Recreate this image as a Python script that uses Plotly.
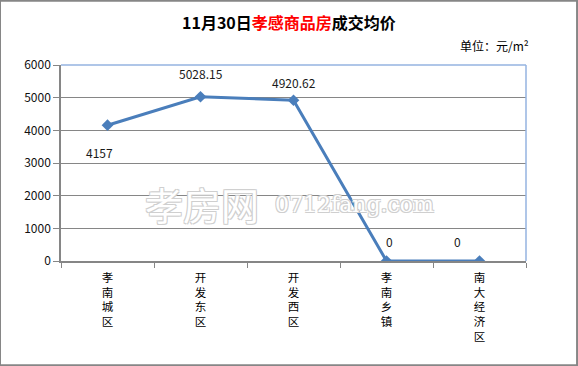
import plotly.graph_objects as go

categories = ["孝南城区", "开发东区", "开发西区", "孝南乡镇", "南大经济区"]
values = [4157, 5028.15, 4920.62, 0, 0]
labels = ["4157", "5028.15", "4920.62", "0", "0"]
yticks = [0, 1000, 2000, 3000, 4000, 5000, 6000]

tick_text = ["<br>".join(list(c)) for c in categories]
FONT = "Noto Sans CJK SC, Noto Sans, sans-serif"

fig = go.Figure()
fig.add_trace(go.Scatter(
    x=categories, y=values, mode="lines+markers",
    line=dict(color="#4a7ebb", width=3),
    marker=dict(symbol="diamond", size=9, color="#4a7ebb"),
    hoverinfo="skip", showlegend=False,
))

# data labels
offsets = [(-8, 27), (0, -23), (0, -18), (3, -20), (-22, -20)]
for i, (c, v, t) in enumerate(zip(categories, values, labels)):
    dx, dy = offsets[i]
    fig.add_annotation(x=c, y=v, text=t, showarrow=False, xshift=dx, yshift=-dy,
                       font=dict(size=12, color="#1a1a1a", family=FONT))

fig.update_layout(
    width=578, height=366,
    margin=dict(l=61, r=52, t=65, b=105),
    paper_bgcolor="white", plot_bgcolor="white",
    font=dict(family=FONT, color="#111"),
    xaxis=dict(
        type="category", range=[-0.5, 4.5],
        tickmode="array", tickvals=categories, ticktext=tick_text,
        tickson="boundaries", ticks="outside", ticklen=5, tickcolor="#868686",
        showline=True, linecolor="#868686", linewidth=1.5,
        showgrid=False, tickfont=dict(size=11.5, color="#000"),
        ticklabelstandoff=5,
        mirror=False, zeroline=False,
    ),
    yaxis=dict(
        range=[0, 6000], tickvals=yticks, ticks="outside", ticklen=6,
        tickcolor="#868686", showline=True, linecolor="#868686", linewidth=1.5,
        showgrid=True, gridcolor="#868686", gridwidth=1.2,
        tickfont=dict(size=12, color="#111"), zeroline=False,
    ),
)

# light blue top & right border of plot area
fig.add_shape(type="line", xref="paper", yref="paper", x0=0, x1=1, y0=1, y1=1,
              line=dict(color="#95b3e0", width=1.5))
fig.add_shape(type="line", xref="paper", yref="paper", x0=1, x1=1, y0=0, y1=1,
              line=dict(color="#95b3e0", width=1.5))

# outer chart border
fig.add_shape(type="rect", xref="paper", yref="paper",
              x0=-61/465, x1=(465+52)/465 - 0.002, y0=-105/196 + 0.004, y1=(196+65)/196 - 0.004,
              line=dict(color="#868686", width=2), layer="below")

# title
fig.add_annotation(xref="paper", yref="paper", x=(289-61)/465, y=(366-22-105)/196,
                   text="<b>11月30日<span style='color:#ff0000'>孝感商品房</span>成交均价</b>",
                   showarrow=False, font=dict(size=16, color="#000", family=FONT),
                   xanchor="center", yanchor="middle")
fig.add_annotation(xref="paper", yref="paper", x=(531-61)/465, y=(366-45-105)/196,
                   text="单位：元/m²", showarrow=False,
                   font=dict(size=12, color="#000", family=FONT),
                   xanchor="right", yanchor="middle")

# watermark
shadow = "1px 1px 0 #cfcfcf, -1px -1px 0 #cfcfcf, 1px -1px 0 #cfcfcf, -1px 1px 0 #cfcfcf"
fig.add_annotation(xref="paper", yref="paper", x=(143-61)/465, y=(366-203-105)/196,
                   text="孝房网", showarrow=False, xanchor="left", yanchor="middle",
                   font=dict(size=38, color="white", family=FONT, shadow=shadow))
fig.add_annotation(xref="paper", yref="paper", x=(273-61)/465, y=(366-204-105)/196,
                   text="0712fang.com", showarrow=False, xanchor="left", yanchor="middle",
                   font=dict(size=22, color="white", family="DejaVu Serif, serif", shadow=shadow))

fig.write_html("out.html")
